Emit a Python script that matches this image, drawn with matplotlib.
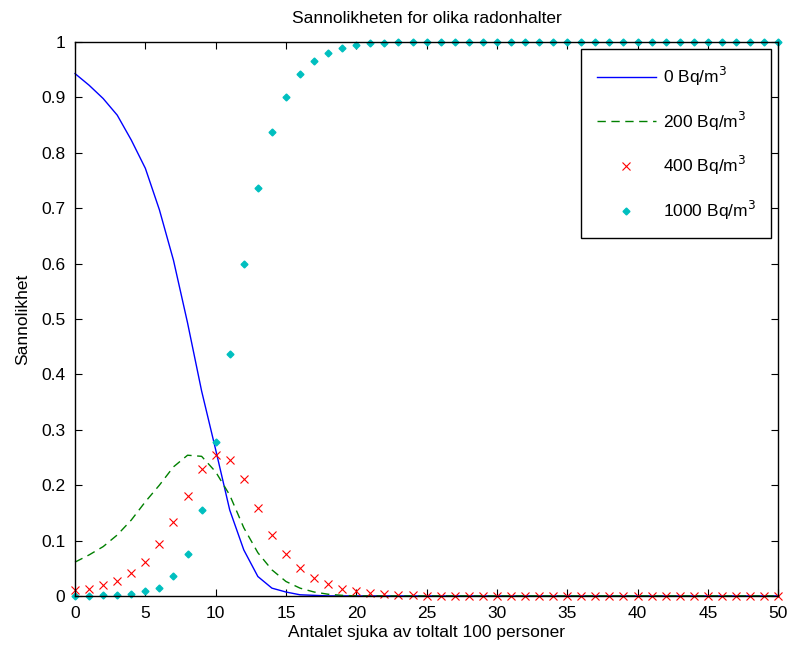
import numpy as np
import matplotlib
matplotlib.use("Agg")
import matplotlib.pyplot as plt

plt.rcParams['font.family'] = ['Liberation Sans', 'DejaVu Sans']

"""data"""
x = np.arange(0, 51)

p0 = [0.943, 0.922, 0.898, 0.868, 0.823, 0.772, 0.697, 0.606, 0.493, 0.37,
      0.264, 0.155, 0.083, 0.035, 0.014, 0.007, 0.002, 0.001] + [0.0] * 33
p200 = [0.061, 0.074, 0.089, 0.110, 0.137, 0.170, 0.200, 0.233, 0.254, 0.252,
        0.224, 0.182, 0.123, 0.078, 0.047, 0.026, 0.014, 0.007, 0.003, 0.001] + [0.0] * 31
p400 = [0.011, 0.012, 0.019, 0.026, 0.041, 0.061, 0.093, 0.134, 0.181, 0.229,
        0.254, 0.245, 0.211, 0.158, 0.110, 0.076, 0.050, 0.032, 0.021, 0.012,
        0.009, 0.006, 0.004, 0.002, 0.001] + [0.0] * 26
p1000 = [0.0, 0.0, 0.001, 0.002, 0.004, 0.009, 0.015, 0.036, 0.076, 0.155,
         0.277, 0.437, 0.600, 0.737, 0.837, 0.901, 0.943, 0.966, 0.981, 0.990,
         0.995, 0.998, 0.999] + [1.0] * 28

labels = ['0 Bq/m$^3$', '200 Bq/m$^3$', '400 Bq/m$^3$', '1000 Bq/m$^3$']

fig = plt.figure(figsize=(7.9, 6.57), dpi=100)
ax = fig.add_axes([0.095, 0.093, 0.89, 0.843])

ax.plot(x, p0, '-', color='#0000ff', lw=1.0, label=labels[0], clip_on=False)
ax.plot(x, p200, '--', color='#008000', lw=1.0, dashes=(6, 4), label=labels[1], clip_on=False)
ax.plot(x, p400, 'x', color='#ff0000', ms=6, mew=0.8, label=labels[2], clip_on=False)
ax.plot(x, p1000, 'D', color='#00bfbf', ms=3.5, label=labels[3], clip_on=False)

ax.set_xlim(0, 50)
ax.set_ylim(0, 1)
ax.set_xticks(np.arange(0, 51, 5))
ax.set_yticks(np.arange(0, 1.01, 0.1))
ax.set_yticklabels(['0', '0.1', '0.2', '0.3', '0.4', '0.5', '0.6', '0.7', '0.8', '0.9', '1'])
ax.tick_params(direction='in', top=True, right=True, labelsize=12.5, length=5, pad=7)
for s in ax.spines.values():
    s.set_linewidth(1.0)

ax.set_title('Sannolikheten for olika radonhalter', fontsize=12.5, pad=14)
ax.set_xlabel('Antalet sjuka av toltalt 100 personer', fontsize=12.5, labelpad=3)
ax.set_ylabel('Sannolikhet', fontsize=12.5, labelpad=8)

leg = ax.legend(loc='upper right', fontsize=12.5, fancybox=False, edgecolor='black',
                framealpha=1, borderaxespad=0.4, labelspacing=1.25, handlelength=3.4,
                handletextpad=0.4, borderpad=0.9)
leg.get_frame().set_linewidth(1.0)

fig.savefig('out.png', dpi=100)
